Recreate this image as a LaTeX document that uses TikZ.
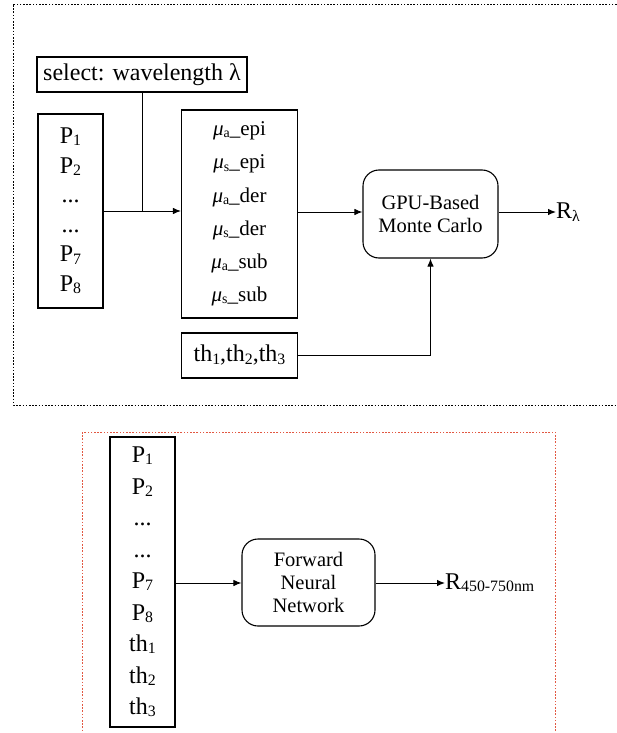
\documentclass[tikz,border=0pt]{standalone}
\usepackage{fontspec}
\usepackage{graphicx}
\setmainfont{Liberation Serif}
\usetikzlibrary{arrows.meta}

\newcommand{\bigtxt}{\fontsize{24}{29.6}\selectfont}
\newcommand{\tallbig}{\fontsize{24}{31.5}\selectfont}
\newcommand{\midtxt}{\fontsize{21}{33.2}\selectfont}
\newcommand{\boxtxt}{\fontsize{20.5}{23}\selectfont}
\newcommand{\wsub}[1]{\raisebox{-0.1em}{\scalebox{0.66}{#1}}}
\newcommand{\muit}{{\itshape μ}}

\tikzset{
  blk/.style={draw, line width=1.1pt, inner sep=0pt, align=center},
  rblk/.style={blk, rounded corners=16pt},
  flow/.style={line width=1pt, -{Latex[length=8pt,width=6.5pt]}},
  wire/.style={line width=1pt},
  frame/.style={line width=1pt, dash pattern=on 1.6pt off 1.6pt},
}

\begin{document}
\begin{tikzpicture}[x=1pt, y=-1pt]
  \useasboundingbox (0,0) rectangle (616,733);

  % ---------- upper part: Monte Carlo ----------
  \draw[frame] (13,5) rectangle (630,405);

  \node[blk, minimum width=210, minimum height=35, font=\bigtxt]
    (sel) at (142,74.5) {select: wavelength λ};

  \node[blk, minimum width=65, minimum height=194, font=\bigtxt]
    (pin) at (70.5,211) {P\wsub{1}\\P\wsub{2}\\...\\...\\P\wsub{7}\\P\wsub{8}};

  \node[blk, minimum width=116, minimum height=208, font=\midtxt]
    (mu) at (239.5,214) {\muit\wsub{a}\_epi\\\muit\wsub{s}\_epi\\\muit\wsub{a}\_der\\
      \muit\wsub{s}\_der\\\muit\wsub{a}\_sub\\\muit\wsub{s}\_sub};

  \node[rblk, minimum width=135, minimum height=88, font=\boxtxt]
    (gpu) at (430.5,214) {GPU-Based\\Monte Carlo};

  \node[blk, minimum width=116, minimum height=45, font=\bigtxt]
    (th) at (239.5,355.5) {th\wsub{1},th\wsub{2},th\wsub{3}};

  \node[anchor=west, inner sep=0pt, font=\bigtxt] (rl) at (556,212) {R\wsub{λ}};

  \coordinate (join) at (sel.south |- pin.east);
  \draw[wire] (sel.south) -- (join);
  \draw[flow] (pin.east) -- (pin.east -| mu.west);
  \draw[flow] (mu.east |- rl.west) -- (gpu.west |- rl.west);
  \draw[flow] (gpu.east |- rl.west) -- (rl.west);
  \draw[flow] (th.east) -| (gpu.south);

  % ---------- lower part: neural network ----------
  \draw[frame, draw={rgb,255:red,226;green,88;blue,66}] (82,432) rectangle (555,745);

  \node[blk, minimum width=65, minimum height=290, font=\tallbig]
    (pin2) at (142.5,582) {P\wsub{1}\\P\wsub{2}\\...\\...\\P\wsub{7}\\P\wsub{8}\\
      th\wsub{1}\\th\wsub{2}\\th\wsub{3}};

  \node[rblk, minimum width=133, minimum height=87, font=\boxtxt]
    (fnn) at (308.5,582.5) {Forward\\Neural\\Network};

  \node[anchor=west, inner sep=0pt, font=\bigtxt] (rnm) at (445,583) {R\wsub{450-750nm}};

  \draw[flow] (pin2.east |- rnm.west) -- (fnn.west |- rnm.west);
  \draw[flow] (fnn.east |- rnm.west) -- (rnm.west);
\end{tikzpicture}
\end{document}
